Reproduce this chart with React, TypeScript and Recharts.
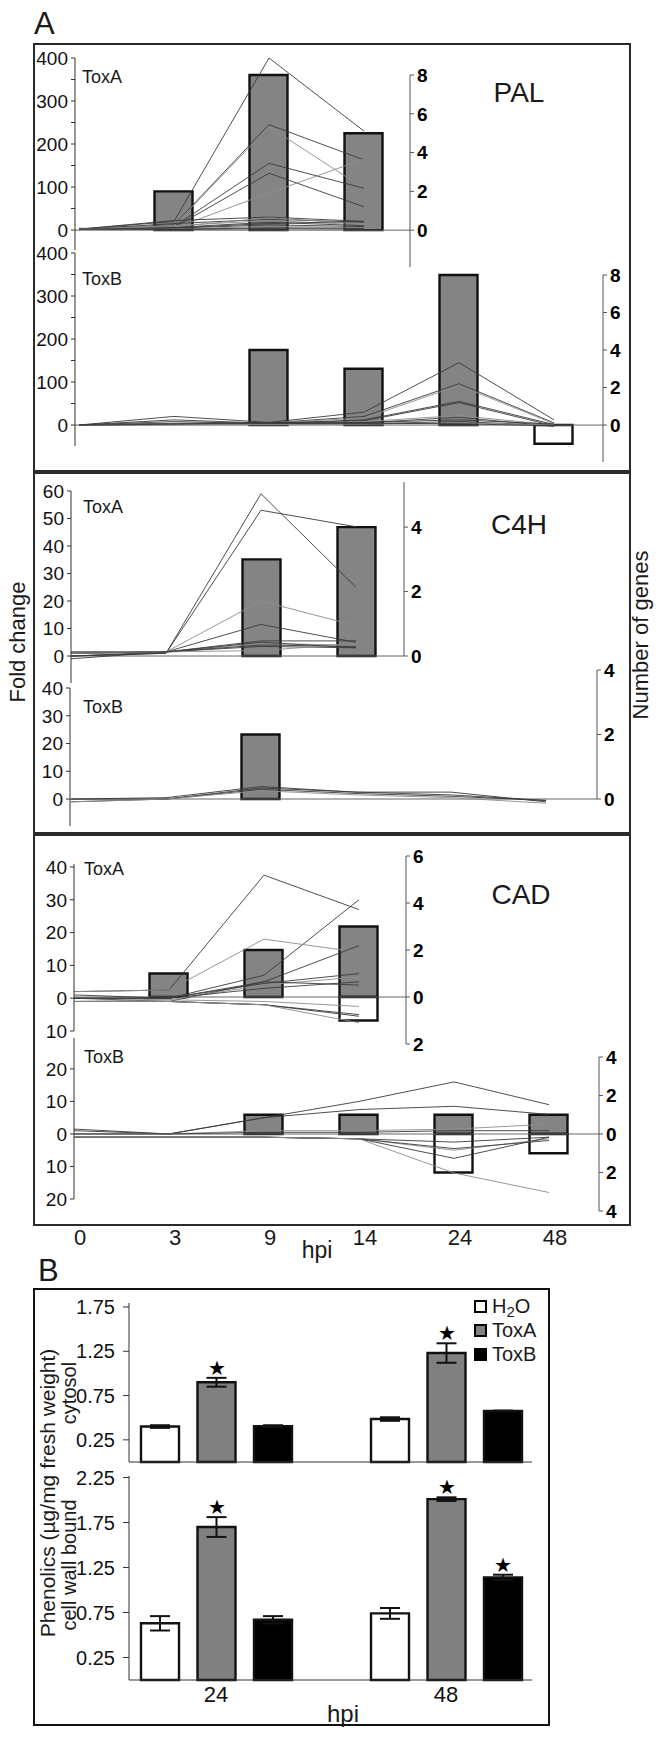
import React from "react";
import {
  ComposedChart,
  Bar,
  Line,
  XAxis,
  YAxis,
  ReferenceLine,
  ErrorBar,
  LabelList,
  Legend,
} from "recharts";

const W = 664;
const FONT = '"Liberation Sans", Arial, Helvetica, sans-serif';
const DX = 95; // px between two time points in panel A
const PAD = 10;

// ---------- panel A : time points ----------
const hpi = ["0", "3", "9", "14", "24", "48"];

// fold change of single genes (lines), left axis
const palToxA = [
  [2, 20, 400, 230],
  [2, 12, 245, 163],
  [2, 10, 240, 97],
  [2, 8, 155, 97],
  [2, 6, 132, 54],
  [2, 4, 86, 165],
  [2, 22, 30, 20],
  [2, 15, 25, 18],
  [2, 10, 22, 12],
  [2, 6, 18, 10],
  [2, 4, 12, 8],
  [2, 3, 8, 6],
  [2, 2, 5, 4],
  [4, 1, 3, 2],
  [2, 8, 28, 15],
  [2, 5, 15, 20],
];
const palToxB = [
  [0, 20, 6, 30, 145, 12],
  [0, 4, 5, 20, 96, 5],
  [0, 3, 5, 16, 92, 3],
  [0, 3, 4, 12, 55, 1],
  [0, 2, 4, 10, 52, -2],
  [0, 2, 3, 8, 22, 0],
  [0, 8, 3, 5, 18, -3],
  [0, 1, 2, 3, 8, -1],
  [0, 1, 1, 2, 5, 0],
  [0, 12, 4, 4, 3, -2],
  [0, 2, 6, 6, 12, 2],
];
const c4hToxA = [
  [0, 1, 59, 25],
  [0, 1, 53, 47],
  [1, 1.5, 20, 11],
  [1, 1.5, 11.5, 5],
  [1, 1.5, 5.5, 5.5],
  [1.5, 1.5, 4.5, 4],
  [0, 1.5, 4, 3.5],
  [-1, 1.5, 3.5, 3],
  [1, 1.5, 2, 4.5],
  [1.5, 1.5, 5, 3],
];
const c4hToxB = [
  [-1, 0, 4, 2.5, 2.5, -1],
  [0, 0, 3.5, 2, 1, -0.5],
  [-1, 0, 3, 1.5, 0.5, -1.5],
  [0, 0.5, 4.5, 2.5, 1.5, -0.5],
];
const cadToxA = [
  [2, 2.5, 37.5, 27],
  [1, 0, 7, 30],
  [2, 2.5, 18, 14],
  [0, -1, 5, 16],
  [0, 0, 4.5, 7.5],
  [0, -0.5, 4, 6.5],
  [0, 0, 5, 4],
  [0, 0, 3, 5],
  [-1, -0.5, -1, -2.5],
  [-1, -1, -2, -5],
  [-1, -1, -2, -5.5],
  [-1, -1, -2, -7.5],
];
const cadToxB = [
  [1.5, 0, 5, 10, 16, 9],
  [1, 0, 5, 7.5, 8.5, 6],
  [0, 0, 1, 1, 1.5, 3],
  [0, 0, 0.5, 0.5, 1, 1],
  [-1, -1, -1, -1.5, -2.5, -1],
  [-1, -1, -1, -1.5, -5, -1.5],
  [-1, -1, -1, -1.5, -4.5, -2],
  [-1, -1, -1, -1.5, -7.5, -1],
  [-1, -1, -1, -1.5, -12, -18],
];

// number of genes (bars), right axis
const palToxAUp = [null, 2, 8, 5];
const palToxADown = [null, null, null, null];
const palToxBUp = [null, null, 4, 3, 8, null];
const palToxBDown = [null, null, null, null, null, -1];
const c4hToxAUp = [null, null, 3, 4];
const c4hToxADown = [null, null, null, null];
const c4hToxBUp = [null, null, 2, null, null, null];
const c4hToxBDown = [null, null, null, null, null, null];
const cadToxAUp = [null, 1, 2, 3];
const cadToxADown = [null, null, null, -1];
const cadToxBUp = [null, null, 1, 1, 1, 1];
const cadToxBDown = [null, null, null, null, -2, -1];

// ---------- panel B : phenolics ----------
const bTimes = ["24", "48"];
const cytoH2O = [0.4, 0.485];
const cytoToxA = [0.9, 1.23];
const cytoToxB = [0.405, 0.575];
const cytoErrH2O = [0.015, 0.02];
const cytoErrToxA = [0.05, 0.11];
const cytoErrToxB = [0.01, 0.005];
const cytoStarA = [1, 1];
const cytoStarB = [0, 0];
const wallH2O = [0.63, 0.74];
const wallToxA = [1.7, 2.01];
const wallToxB = [0.67, 1.14];
const wallErrH2O = [0.08, 0.06];
const wallErrToxA = [0.11, 0.02];
const wallErrToxB = [0.04, 0.03];
const wallStarA = [1, 1];
const wallStarB = [0, 1];

const absFmt = (v: number) => String(Math.abs(v));
const hundredFmt = (v: number) => (v % 100 === 0 ? String(v) : "");
const plainFmt = (v: number) => String(v);

type SubProps = {
  lines: number[][];
  up: (number | null)[];
  down: (number | null)[];
  n: number;
  xL: number;
  xR: number;
  x0: number;
  lTop: number;
  lBot: number;
  lDom: [number, number];
  lTicks: number[];
  lFmt: (v: number) => string;
  bTop: number;
  bBot: number;
  bDom: [number, number];
  bTicks: number[];
  showX?: boolean;
};

function GeneSub(p: SubProps) {
  const rows = hpi.slice(0, p.n).map((_, i) => {
    const r: Record<string, number | null> = { x: i, up: p.up[i], down: p.down[i] };
    p.lines.forEach((g, k) => {
      r["g" + k] = g[i];
    });
    return r;
  });
  const xd: [number, number] = [(p.xL - p.x0) / DX, (p.xR - p.x0) / DX];
  const xh = p.showX ? 50 : 0;
  return (
    <>
      <div style={{ position: "absolute", left: 0, top: p.bTop - PAD }}>
        <ComposedChart
          width={W}
          height={p.bBot - p.bTop + 2 * PAD}
          data={rows}
          stackOffset="sign"
          margin={{ top: PAD, bottom: PAD, left: p.xL, right: 0 }}
        >
          <XAxis type="number" dataKey="x" domain={xd} tickCount={2} hide />
          <YAxis
            orientation="right"
            type="number"
            domain={p.bDom}
            ticks={p.bTicks}
            interval={0}
            width={W - p.xR}
            tickFormatter={absFmt}
            tickSize={4}
            tickMargin={3}
            axisLine={{ stroke: "#555" }}
            tickLine={{ stroke: "#555" }}
            tick={{ fontSize: 19, fontWeight: 700, fill: "#000" }}
          />
          <ReferenceLine y={0} stroke="#666" strokeWidth={1} />
          <Bar dataKey="up" stackId="s" barSize={38} fill="#848484" stroke="#111" strokeWidth={2.4} isAnimationActive={false} />
          <Bar dataKey="down" stackId="s" barSize={38} fill="#ffffff" stroke="#111" strokeWidth={2.4} isAnimationActive={false} />
        </ComposedChart>
      </div>
      <div style={{ position: "absolute", left: 0, top: p.lTop - PAD }}>
        <ComposedChart
          width={W}
          height={p.lBot - p.lTop + 2 * PAD + xh}
          data={rows}
          margin={{ top: PAD, bottom: PAD, left: 0, right: W - p.xR }}
        >
          <XAxis
            type="number"
            dataKey="x"
            domain={xd}
            ticks={[0, 1, 2, 3, 4, 5]}
            interval={0}
            hide={!p.showX}
            height={xh || 30}
            tickFormatter={(i: number) => hpi[i]}
            tickSize={0}
            tickMargin={30}
            axisLine={false}
            tick={{ fontSize: 22, fill: "#1a1a1a", dx: 6 }}
          />
          <YAxis
            type="number"
            domain={p.lDom}
            ticks={p.lTicks}
            interval={0}
            width={p.xL}
            tickFormatter={p.lFmt}
            tickSize={4}
            tickMargin={3}
            axisLine={{ stroke: "#333" }}
            tickLine={{ stroke: "#333" }}
            tick={{ fontSize: 19, fill: "#111" }}
          />
          {p.lines.map((_, k) => (
            <Line
              key={k}
              dataKey={"g" + k}
              type="linear"
              stroke={k % 3 === 2 ? "#8c8c8c" : "#3a3a3a"}
              strokeWidth={0.9}
              dot={false}
              activeDot={false}
              isAnimationActive={false}
            />
          ))}
        </ComposedChart>
      </div>
    </>
  );
}

const starContent = (errs: number[], flags: number[]) => (props: any) => {
  const i = props.index;
  if (i == null || !flags[i]) return null;
  const vb = props.viewBox || props;
  const v = Number(props.value);
  const pxPerUnit = v ? Math.abs(vb.height) / v : 0;
  const cx = vb.x + vb.width / 2;
  const y = vb.y - errs[i] * pxPerUnit - 10;
  return (
    <text key={"s" + i} x={cx} y={y} textAnchor="middle" dominantBaseline="central" fontSize={20} fill="#000">
      ★
    </text>
  );
};

const renderLegend = (props: any) => {
  const items = props.payload || [];
  return (
    <div style={{ fontFamily: FONT }}>
      {items.map((e: any) => (
        <div key={e.value} style={{ display: "flex", alignItems: "center", height: 24, fontSize: 20, color: "#1a1a1a" }}>
          <span
            style={{
              display: "inline-block",
              width: 13,
              height: 13,
              boxSizing: "border-box",
              border: "2px solid #000",
              background: e.color,
              marginRight: 5,
            }}
          />
          {e.value === "H2O" ? (
            <span>
              H<span style={{ fontSize: 15, position: "relative", top: 4 }}>2</span>O
            </span>
          ) : (
            e.value
          )}
        </div>
      ))}
    </div>
  );
};

const Txt = (p: { x: number; y: number; size: number; children: React.ReactNode; rot?: boolean; bold?: boolean; left?: boolean }) => (
  <div
    style={{
      position: "absolute",
      left: p.x,
      top: p.y,
      transform: p.left
        ? "translate(0,-50%)"
        : p.rot
        ? "translate(-50%,-50%) rotate(-90deg)"
        : "translate(-50%,-50%)",
      fontSize: p.size,
      fontWeight: p.bold ? 700 : 400,
      whiteSpace: "nowrap",
      color: "#1a1a1a",
      lineHeight: 1,
    }}
  >
    {p.children}
  </div>
);

const Box = (p: { l: number; t: number; r: number; b: number; w?: number; c?: string }) => (
  <div
    style={{
      position: "absolute",
      left: p.l - 1,
      top: p.t - 1,
      width: p.r - p.l,
      height: p.b - p.t,
      border: `${p.w || 2}px solid ${p.c || "#2b2b2b"}`,
    }}
  />
);

export default function App() {
  const bxd: [number, number] = [(129 - 216) / 230, (532 - 216) / 230];
  const cytoRows = bTimes.map((_, i) => ({
    x: i,
    h2o: cytoH2O[i],
    toxA: cytoToxA[i],
    toxB: cytoToxB[i],
    eH: cytoErrH2O[i],
    eA: cytoErrToxA[i],
    eB: cytoErrToxB[i],
  }));
  const wallRows = bTimes.map((_, i) => ({
    x: i,
    h2o: wallH2O[i],
    toxA: wallToxA[i],
    toxB: wallToxB[i],
    eH: wallErrH2O[i],
    eA: wallErrToxA[i],
    eB: wallErrToxB[i],
  }));
  const yTick = { fontSize: 20, fill: "#111" };
  const bFmt = (v: number) => v.toFixed(2);

  return (
    <div
      style={{
        position: "absolute",
        left: 0,
        top: 0,
        width: W,
        height: 1737,
        background: "#fff",
        fontFamily: FONT,
        overflow: "hidden",
      }}
    >
      {/* ---------------- A ---------------- */}
      <Txt x={34} y={23} size={31} left>A</Txt>
      <Box l={34} t={44} r={628} b={469} />
      <Box l={34} t={473} r={628} b={831} />
      <Box l={34} t={835} r={628} b={1223} />

      <GeneSub
        lines={palToxA} up={palToxAUp} down={palToxADown} n={4}
        xL={75} xR={410} x0={79}
        lTop={58} lBot={250} lDom={[-46.5, 400]} lTicks={[0, 50, 100, 150, 200, 250, 300, 350, 400]} lFmt={hundredFmt}
        bTop={75} bBot={267} bDom={[-1.9, 8]} bTicks={[0, 2, 4, 6, 8]}
      />
      <GeneSub
        lines={palToxB} up={palToxBUp} down={palToxBDown} n={6}
        xL={75} xR={603} x0={79}
        lTop={253} lBot={446} lDom={[-48.8, 400]} lTicks={[0, 50, 100, 150, 200, 250, 300, 350, 400]} lFmt={hundredFmt}
        bTop={275} bBot={462} bDom={[-1.97, 8]} bTicks={[0, 2, 4, 6, 8]}
      />
      <GeneSub
        lines={c4hToxA} up={c4hToxAUp} down={c4hToxADown} n={4}
        xL={71} xR={404} x0={71}
        lTop={491} lBot={683} lDom={[-9.8, 60]} lTicks={[0, 10, 20, 30, 40, 50, 60]} lFmt={plainFmt}
        bTop={482} bBot={656} bDom={[0, 5.4]} bTicks={[0, 2, 4]}
      />
      <GeneSub
        lines={c4hToxB} up={c4hToxBUp} down={c4hToxBDown} n={6}
        xL={70} xR={597} x0={71}
        lTop={688} lBot={826} lDom={[-9.7, 40]} lTicks={[0, 10, 20, 30, 40]} lFmt={plainFmt}
        bTop={670} bBot={799} bDom={[0, 4]} bTicks={[0, 2, 4]}
      />
      <GeneSub
        lines={cadToxA} up={cadToxAUp} down={cadToxADown} n={4}
        xL={74} xR={406} x0={74}
        lTop={864} lBot={1031} lDom={[-10, 40.9]} lTicks={[-10, 0, 10, 20, 30, 40]} lFmt={absFmt}
        bTop={856} bBot={1044} bDom={[-2, 6]} bTicks={[-2, 0, 2, 4, 6]}
      />
      <GeneSub
        lines={cadToxB} up={cadToxBUp} down={cadToxBDown} n={6}
        xL={74} xR={599} x0={74}
        lTop={1038} lBot={1199} lDom={[-20, 29.5]} lTicks={[-20, -10, 0, 10, 20]} lFmt={absFmt}
        bTop={1057} bBot={1211} bDom={[-4, 4]} bTicks={[-4, -2, 0, 2, 4]}
        showX
      />

      <Txt x={82} y={77} size={18} left>ToxA</Txt>
      <Txt x={82} y={279} size={18} left>ToxB</Txt>
      <Txt x={83} y={507} size={18} left>ToxA</Txt>
      <Txt x={83} y={707} size={18} left>ToxB</Txt>
      <Txt x={84} y={869} size={18} left>ToxA</Txt>
      <Txt x={84} y={1057} size={18} left>ToxB</Txt>
      <Txt x={519} y={93} size={28}>PAL</Txt>
      <Txt x={519} y={525} size={28}>C4H</Txt>
      <Txt x={521} y={895} size={28}>CAD</Txt>
      <Txt x={18} y={642} size={22} rot>Fold change</Txt>
      <Txt x={641} y={635} size={22} rot>Number of genes</Txt>
      <Txt x={317} y={1250} size={23}>hpi</Txt>

      {/* ---------------- B ---------------- */}
      <Txt x={38} y={1270} size={31} left>B</Txt>
      <Box l={34} t={1289} r={547} b={1723} w={2.5} c="#111" />

      <div style={{ position: "absolute", left: 0, top: 1303 - PAD }}>
        <ComposedChart
          width={W}
          height={1462 - 1303 + 2 * PAD + 10}
          data={cytoRows}
          barGap={18.5}
          margin={{ top: PAD, bottom: PAD, left: 0, right: W - 532 }}
        >
          <XAxis type="number" dataKey="x" domain={bxd} ticks={[0, 1]} tickCount={2} height={10} tick={false} tickLine={false} axisLine={{ stroke: "#333" }} />
          <YAxis
            type="number"
            domain={[0, 1.795]}
            ticks={[0.25, 0.75, 1.25, 1.75]}
            interval={0}
            width={129}
            tickFormatter={bFmt}
            tickSize={6}
            tickMargin={8}
            axisLine={{ stroke: "#333" }}
            tickLine={{ stroke: "#333" }}
            tick={yTick}
          />
          <Legend
            layout="vertical"
            align="center"
            verticalAlign="middle"
            content={renderLegend}
            wrapperStyle={{ left: 474, top: 1294 - (1303 - PAD), width: "auto", height: "auto" }}
          />
          <Bar dataKey="h2o" name="H2O" barSize={38} fill="#ffffff" stroke="#111" strokeWidth={2.4} isAnimationActive={false}>
            <ErrorBar dataKey="eH" width={10} strokeWidth={2} stroke="#111" />
          </Bar>
          <Bar dataKey="toxA" name="ToxA" barSize={38} fill="#808080" stroke="#111" strokeWidth={2.4} isAnimationActive={false}>
            <ErrorBar dataKey="eA" width={10} strokeWidth={2} stroke="#111" />
            <LabelList dataKey="toxA" content={starContent(cytoErrToxA, cytoStarA)} />
          </Bar>
          <Bar dataKey="toxB" name="ToxB" barSize={38} fill="#000000" stroke="#111" strokeWidth={2.4} isAnimationActive={false}>
            <ErrorBar dataKey="eB" width={10} strokeWidth={2} stroke="#111" />
            <LabelList dataKey="toxB" content={starContent(cytoErrToxB, cytoStarB)} />
          </Bar>
        </ComposedChart>
      </div>

      <div style={{ position: "absolute", left: 0, top: 1476 - PAD }}>
        <ComposedChart
          width={W}
          height={1680 - 1476 + PAD + 40}
          data={wallRows}
          barGap={18.5}
          margin={{ top: PAD, bottom: 0, left: 0, right: W - 532 }}
        >
          <XAxis
            type="number"
            dataKey="x"
            domain={bxd}
            ticks={[0, 1]}
            tickCount={2}
            interval={0}
            height={40}
            tickFormatter={(i: number) => bTimes[i]}
            tickSize={0}
            tickMargin={6}
            axisLine={{ stroke: "#333" }}
            tick={{ fontSize: 22, fill: "#111" }}
          />
          <YAxis
            type="number"
            domain={[0, 2.267]}
            ticks={[0.25, 0.75, 1.25, 1.75, 2.25]}
            interval={0}
            width={129}
            tickFormatter={bFmt}
            tickSize={6}
            tickMargin={8}
            axisLine={{ stroke: "#333" }}
            tickLine={{ stroke: "#333" }}
            tick={yTick}
          />
          <Bar dataKey="h2o" name="H2O" barSize={38} fill="#ffffff" stroke="#111" strokeWidth={2.4} isAnimationActive={false}>
            <ErrorBar dataKey="eH" width={10} strokeWidth={2} stroke="#111" />
          </Bar>
          <Bar dataKey="toxA" name="ToxA" barSize={38} fill="#808080" stroke="#111" strokeWidth={2.4} isAnimationActive={false}>
            <ErrorBar dataKey="eA" width={10} strokeWidth={2} stroke="#111" />
            <LabelList dataKey="toxA" content={starContent(wallErrToxA, wallStarA)} />
          </Bar>
          <Bar dataKey="toxB" name="ToxB" barSize={38} fill="#000000" stroke="#111" strokeWidth={2.4} isAnimationActive={false}>
            <ErrorBar dataKey="eB" width={10} strokeWidth={2} stroke="#111" />
            <LabelList dataKey="toxB" content={starContent(wallErrToxB, wallStarB)} />
          </Bar>
        </ComposedChart>
      </div>

      <Txt x={47} y={1493} size={21} rot>Phenolics (µg/mg fresh weight)</Txt>
      <Txt x={69} y={1393} size={20} rot>cytosol</Txt>
      <Txt x={69} y={1565} size={20} rot>cell wall bound</Txt>
      <Txt x={343} y={1714} size={24}>hpi</Txt>
    </div>
  );
}
